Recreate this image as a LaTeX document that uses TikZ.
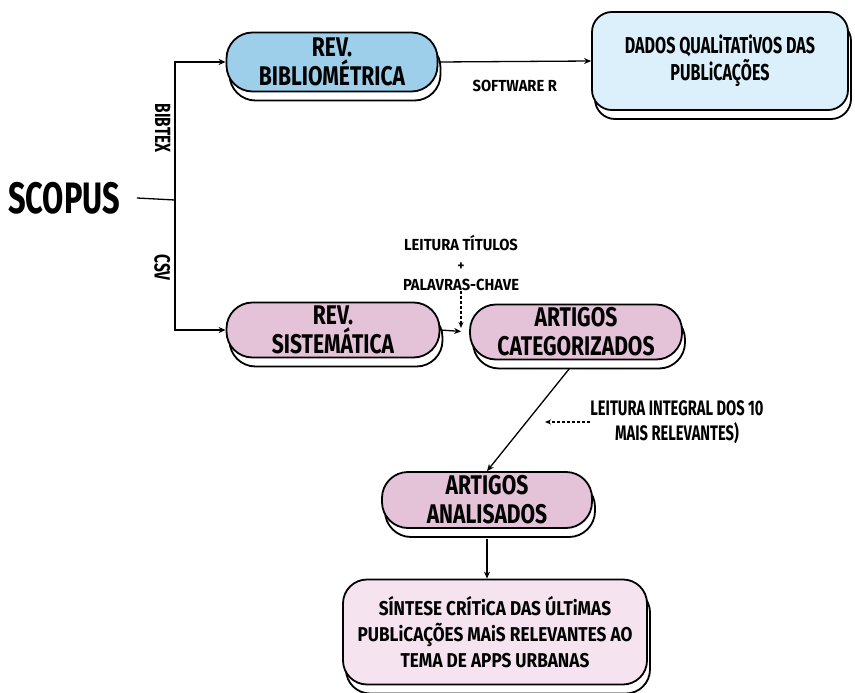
\documentclass[tikz,border=0pt]{standalone}
\usepackage{fontspec}
\setmainfont[FakeStretch=0.7]{Fira Sans}
\newfontfamily\boxfont[FakeStretch=0.78]{Fira Sans}
\newfontfamily\synfont[FakeStretch=0.86]{Fira Sans}
\newfontfamily\notefont[FakeStretch=0.92]{Fira Sans}
\usetikzlibrary{positioning, arrows.meta, shadows}

\definecolor{bibblue}{HTML}{9DCFEA}
\definecolor{pubblue}{HTML}{DCF0FB}
\definecolor{revpink}{HTML}{E4C3D9}
\definecolor{synpink}{HTML}{F5E3EF}

\begin{document}
\begin{tikzpicture}[x=1pt, y=-1pt,
    box/.style={draw, line width=1.8pt, rounded corners=26pt, align=center, inner sep=0pt,
        font=\boxfont\fontsize{27}{29}\selectfont\bfseries,
        general shadow={draw, fill=white, line width=1.8pt, shadow xshift=3pt, shadow yshift=-9pt}},
    lbl/.style={font=\notefont\fontsize{16}{20}\selectfont\bfseries, align=center, inner sep=0pt},
    vlbl/.style={font=\fontsize{22}{24}\selectfont\bfseries, rotate=-90, anchor=north, inner sep=4pt},
    arr/.style={-{Stealth[length=7pt, width=6pt]}, line width=1.3pt},
    darr/.style={-{Stealth[length=6pt, width=5pt, open]}, line width=1.1pt, dash pattern=on 3pt off 2pt},
]
\useasboundingbox (0,0) rectangle (855,693);

% === Source ===
\node[font=\fontsize{44}{46}\selectfont\bfseries, inner sep=0pt, outer xsep=17pt] at (64,198) (scopus) {SCOPUS};
\coordinate (split) at (175,200);

% === Bibliometric branch (top) ===
\node[box, fill=bibblue, minimum width=211pt, minimum height=59pt] at (332,62) (revbib) {REV.\\BIBLIOMÉTRICA};
\node[box, fill=pubblue, rounded corners=20pt, minimum width=256pt, minimum height=98pt,
    font=\fontsize{23}{27}\selectfont\bfseries] at (720,61) (dados) {DADOS QUALiTATiVOS DAS\\PUBLiCAÇÕES};

% === Systematic branch (bottom) ===
\node[box, fill=revpink, minimum width=213pt, minimum height=55pt] at (333,330) (revsis) {REV.\\SISTEMÁTICA};
\node[box, fill=revpink, minimum width=212pt, minimum height=55pt] at (576,332) (artcat) {ARTIGOS\\CATEGORIZADOS};
\node[box, fill=revpink, minimum width=210pt, minimum height=56pt] at (487,500) (artana) {ARTIGOS\\ANALISADOS};
\node[box, fill=synpink, rounded corners=24pt, minimum width=304pt, minimum height=105pt,
    font=\synfont\fontsize{20}{26}\selectfont\bfseries] at (495,632) (sintese) {SÍNTESE CRÍTiCA DAS ÚLTiMAS\\PUBLiCAÇÕES MAiS RELEVANTES AO\\TEMA DE APPS URBANAS};

% labels
\node[lbl] at (461,263) (leitura) {LEITURA TÍTULOS\\{\fontsize{14}{20}\selectfont +}\\PALAVRAS-CHAVE};
\node[lbl, font=\fontsize{21}{25}\selectfont\bfseries] at (677,422) (integral) {LEITURA INTEGRAL DOS 10\\MAIS RELEVANTES)};
\coordinate (kwend) at (461,328);
\coordinate (intend) at (545,422);

% connectors
\draw[line width=1.3pt] (scopus.east) -- (split);
\draw[arr] (split) |- node[pos=0.26, vlbl] {BIBTEX} (revbib.west);
\draw[arr] (split) |- node[pos=0.26, vlbl] {CSV} (revsis.west);
\draw[arr] (revbib.east) -- node[below=18pt, lbl] {SOFTWARE R} (dados.west);
\draw[arr, shorten >=8pt] (revsis.east) -- (artcat.west);
\draw[darr] (leitura.south) -- (kwend);
\draw[arr, shorten <=11pt] (artcat.south) -- (artana.north);
\draw[darr] (integral.west) -- (intend);
\draw[arr, shorten <=10pt] (artana.south) -- (artana.south |- sintese.north);

\end{tikzpicture}
\end{document}
